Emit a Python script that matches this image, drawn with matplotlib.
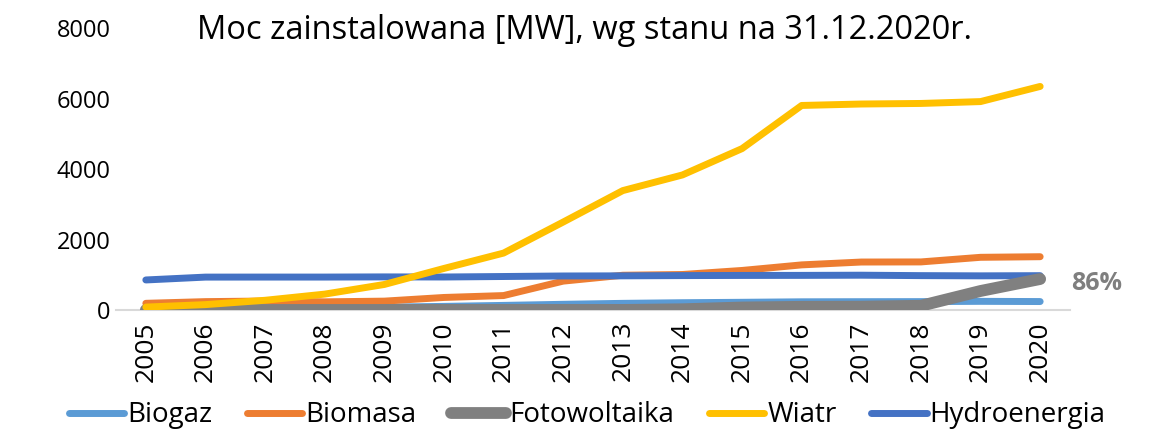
import matplotlib
matplotlib.use("Agg")
import matplotlib.pyplot as plt
import numpy as np

years = [str(y) for y in range(2005, 2021)]
biogaz = [32, 46, 55, 70, 82, 103, 131, 162, 189, 207, 219, 233, 236, 238, 246, 240]
biomasa = [190, 238, 255, 232, 252, 356, 410, 820, 987, 1008, 1123, 1281, 1362, 1365, 1496, 1513]
fotowoltaika = [0, 0, 1, 1, 1, 2, 2, 2, 2, 21, 71, 90, 94, 120, 540, 880]
wiatr = [83, 153, 276, 451, 725, 1180, 1616, 2497, 3390, 3834, 4582, 5807, 5848, 5864, 5917, 6347]
hydro = [853, 934, 935, 935, 940, 937, 951, 966, 970, 977, 981, 983, 988, 976, 970, 975]
yticks = [0, 2000, 4000, 6000, 8000]
title = "Moc zainstalowana [MW], wg stanu na 31.12.2020r."
label_86 = "86%"

plt.rcParams['font.family'] = ['Open Sans', 'DejaVu Sans']

fig = plt.figure(figsize=(11.51, 4.34), dpi=100)
ax = fig.add_axes([0.1008, 0.2857, 0.8288, 0.6493])
x = np.arange(len(years))

l1, = ax.plot(x, biogaz, color='#5B9BD5', lw=5, solid_capstyle='round', zorder=2, label='Biogaz')
l2, = ax.plot(x, biomasa, color='#ED7D31', lw=5, solid_capstyle='round', zorder=3, label='Biomasa')
l3, = ax.plot(x, fotowoltaika, color='#808080', lw=8.5, solid_capstyle='round', zorder=5, label='Fotowoltaika')
l4, = ax.plot(x, wiatr, color='#FFC000', lw=5, solid_capstyle='round', zorder=6, label='Wiatr')
l5, = ax.plot(x, hydro, color='#4472C4', lw=5, solid_capstyle='round', zorder=4, label='Hydroenergia')

ax.set_xlim(-0.5, len(years) - 0.5)
ax.set_ylim(0, 8000)
ax.set_yticks(yticks)
ax.set_yticklabels([str(v) for v in yticks], fontsize=17)
ax.set_xticks(x)
ax.set_xticklabels(years, rotation=90, fontsize=19)
ax.tick_params(axis='both', length=0)
ax.tick_params(axis='x', pad=8)
ax.tick_params(axis='y', pad=4)
for s in ['top', 'right', 'left']:
    ax.spines[s].set_visible(False)
ax.spines['bottom'].set_color('#d9d9d9')
ax.spines['bottom'].set_linewidth(1.5)

ax.annotate(label_86, xy=(x[-1], fotowoltaika[-1]), xytext=(22, -3), textcoords='offset points',
            fontsize=18, fontweight='bold', color='#7f7f7f', va='center', ha='left',
            annotation_clip=False)

fig.text(0.508, 0.93, title, fontsize=23.5, ha='center', va='center')

fig.legend(handles=[l1, l2, l3, l4, l5], loc='center', bbox_to_anchor=(0.51, 0.043),
           ncol=5, frameon=False, fontsize=20, handlelength=2.0, columnspacing=1.25,
           handletextpad=0.1, borderpad=0)

fig.savefig('out.png', dpi=100)
